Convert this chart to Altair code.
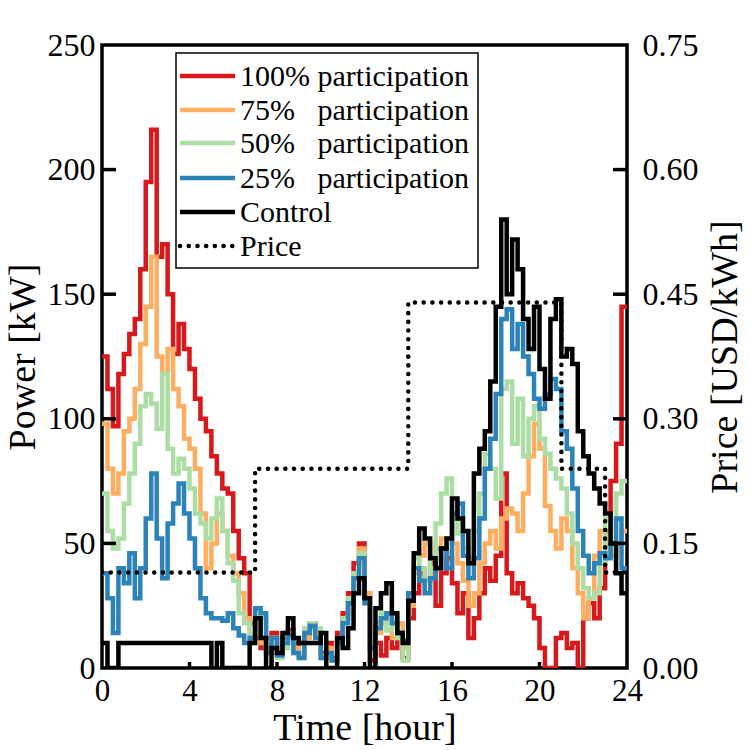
import altair as alt
import pandas as pd

# ---------------- data (15-min steps) ----------------
hours = [i * 0.25 for i in range(97)]

red = [125, 112, 97, 118, 126, 134, 140, 160, 195, 216, 165, 170, 150, 126, 138, 128,
       120, 108, 100, 95, 85, 78, 72, 70, 55, 44, 38, 18,
       12, 8, 12, 14, 6, 12, 15, 10, 5, 14, 18, 15, 6, 10, 4, 14, 22, 30, 42, 50,
       30, 3, 10, 5, 12, 8, 14, 4, 20, 30, 38, 35, 42, 25, 38, 44,
       34, 22, 30, 12, 20, 30, 40, 35, 45, 78, 38, 30, 34, 28, 25, 20,
       8, 0, 0, 12, 14, 8, 10, 0, 20, 26, 20, 32, 55, 75, 90, 145]

orange = [98, 80, 70, 78, 95, 100, 112, 130, 145, 165, 125, 118, 128, 112, 105, 92,
          88, 80, 62, 40, 50, 62, 55, 45, 38, 30, 20, 12,
          18, 10, 8, 12, 6, 10, 14, 8, 5, 12, 16, 14, 5, 8, 3, 12, 20, 26, 38, 48,
          30, 10, 14, 18, 22, 12, 18, 8, 25, 38, 45, 50, 44, 48, 52, 46,
          50, 42, 35, 25, 30, 42, 50, 55, 48, 60, 64, 62, 55, 70, 85, 98,
          88, 65, 55, 48, 60, 55, 40, 30, 20, 28, 45, 55, 52, 45, 50, 55]

green = [70, 55, 48, 52, 66, 78, 90, 105, 110, 106, 96, 118, 88, 78, 84, 80,
         72, 62, 58, 52, 60, 68, 55, 42, 35, 22, 18, 14,
         24, 20, 6, 12, 4, 8, 12, 6, 4, 16, 18, 16, 4, 6, 3, 10, 20, 28, 38, 46,
         28, 8, 18, 22, 15, 20, 12, 3, 30, 44, 40, 35, 45, 58, 70, 76,
         60, 54, 48, 42, 55, 70, 86, 80, 68, 112, 115, 90, 108, 85, 100, 105,
         92, 86, 80, 76, 72, 62, 50, 40, 32, 28, 30, 42, 60, 45, 70, 75]

blue = [38, 28, 14, 40, 34, 46, 28, 40, 60, 78, 52, 36, 58, 66, 74, 62,
        52, 40, 28, 22, 20, 20, 19, 22, 16, 13, 10, 12,
        24, 22, 6, 12, 5, 10, 13, 6, 4, 14, 17, 12, 4, 6, 3, 10, 18, 26, 36, 44,
        26, 8, 16, 20, 22, 18, 14, 11, 30, 40, 35, 30, 36, 40, 48, 40,
        62, 66, 45, 36, 44, 60, 80, 92, 110, 140, 144, 128, 138, 125, 118, 108,
        104, 110, 116, 112, 95, 88, 72, 55, 45, 38, 42, 46, 44, 50, 60, 40]

control = [10, 0, 0, 10, 10, 10, 10, 10, 10, 10, 10, 10, 10, 10, 10, 10,
           10, 10, 10, 10, 0, 10, 0, 0, 0, 0, 0, 10,
           20, 12, 0, 8, 6, 14, 20, 12, 10, 10, 10, 10, 14, 0, 0, 12, 8, 16, 30, 36,
           28, 0, 24, 30, 34, 22, 14, 10, 27, 46, 56, 52, 44, 40, 48, 52,
           68, 60, 55, 42, 78, 88, 95, 115, 145, 180, 150, 172, 160, 140, 128, 145,
           120, 108, 140, 148, 125, 128, 122, 95, 85, 78, 72, 66, 62, 50, 38, 30]

price_times = [0, 7, 14, 21, 23, 24]
price_vals = [0.115, 0.24, 0.44, 0.24, 0.115, 0.115]

x_tick_vals = [0, 4, 8, 12, 16, 20, 24]
inner_x_ticks = [4, 8, 12, 16, 20]
power_tick_vals = [0, 50, 100, 150, 200, 250]
inner_power_ticks = [50, 100, 150, 200]
price_tick_vals = [0, 0.15, 0.30, 0.45, 0.60, 0.75]
inner_price_ticks = [0.15, 0.30, 0.45, 0.60]

series_names = ["100% participation", "75%\u00a0\u00a0\u00a0participation",
                "50%\u00a0\u00a0\u00a0participation", "25%\u00a0\u00a0\u00a0participation",
                "Control"]
series_values = [red, orange, green, blue, control]
series_colors = ["#d7191c", "#fdae61", "#abdda4", "#2b83ba", "#000000"]

# ---------------- layout ----------------
FONT = "Liberation Serif"
W, H = 525, 623

xscale = alt.Scale(domain=[0, 24], nice=False, zero=False)
pscale = alt.Scale(domain=[0, 250], nice=False)
prscale = alt.Scale(domain=[0, 0.75], nice=False)

common = dict(grid=False, domain=False, ticks=False, labelFont=FONT, titleFont=FONT,
              labelColor="black", titleColor="black", titleFontWeight="normal",
              labelFlush=False, labelOverlap=False)

xaxis = alt.Axis(values=x_tick_vals, title="Time [hour]", labelFontSize=31,
                 labelPadding=8, titleFontSize=38, titlePadding=3, **common)
yaxis = alt.Axis(values=power_tick_vals, title="Power [kW]", labelFontSize=32,
                 labelPadding=7, titleFontSize=38, titlePadding=5, **common)
raxis = alt.Axis(values=price_tick_vals, format=".2f", orient="right",
                 title="Price [USD/kWh]", labelFontSize=32, labelPadding=15,
                 titleFontSize=38, titlePadding=8, titleAngle=270,
                 titleBaseline="top", **common)


def sdf(vals):
    return pd.DataFrame({"t": hours, "v": list(vals) + [vals[-1]]})


power_layers = []
for vals, col in zip(series_values, series_colors):
    power_layers.append(
        alt.Chart(sdf(vals)).mark_line(interpolate="step-after", strokeWidth=4.5,
                                       color=col, clip=True).encode(
            x=alt.X("t:Q", scale=xscale, axis=xaxis),
            y=alt.Y("v:Q", scale=pscale, axis=yaxis))
    )

left_ticks = alt.Chart(pd.DataFrame({"v": inner_power_ticks})).mark_rule(
    color="black", strokeWidth=3.5).encode(
    y=alt.Y("v:Q", scale=pscale, axis=yaxis), x=alt.value(0), x2=alt.value(14))

bottom_ticks = alt.Chart(pd.DataFrame({"t": inner_x_ticks})).mark_rule(
    color="black", strokeWidth=3.5).encode(
    x=alt.X("t:Q", scale=xscale, axis=xaxis), y=alt.value(H), y2=alt.value(H - 6))

power = alt.layer(*power_layers, left_ticks, bottom_ticks)

price_line = alt.Chart(pd.DataFrame({"t": price_times, "p": price_vals})).mark_line(
    interpolate="step-after", color="black", strokeWidth=4.5, strokeDash=[0.1, 8.6],
    strokeCap="round", clip=True).encode(
    x=alt.X("t:Q", scale=xscale, axis=xaxis),
    y=alt.Y("p:Q", scale=prscale, axis=raxis))

right_ticks = alt.Chart(pd.DataFrame({"p": inner_price_ticks})).mark_rule(
    color="black", strokeWidth=3.5).encode(
    y=alt.Y("p:Q", scale=prscale, axis=raxis), x=alt.value(W - 14), x2=alt.value(W))

price = alt.layer(price_line, right_ticks)

# ---------------- legend (drawn by hand) ----------------
one = pd.DataFrame({"a": [0]})
legend_layers = [
    alt.Chart(one).mark_rect(fill="white", stroke="black", strokeWidth=1.5).encode(
        x=alt.value(74), x2=alt.value(376), y=alt.value(8), y2=alt.value(223))
]
row_y = [31, 65, 98, 133, 167, 201]
labels = series_names + ["Price"]
for i, lab in enumerate(labels):
    yy = row_y[i]
    if lab == "Price":
        rule = alt.Chart(one).mark_rule(color="black", strokeWidth=4.5,
                                        strokeDash=[0.1, 8.6], strokeCap="round")
    else:
        rule = alt.Chart(one).mark_rule(color=series_colors[i], strokeWidth=4.5)
    legend_layers.append(rule.encode(x=alt.value(78), x2=alt.value(133), y=alt.value(yy)))
    legend_layers.append(
        alt.Chart(one).mark_text(align="left", baseline="middle", font=FONT,
                                 fontSize=30, color="black").encode(
            x=alt.value(138), y=alt.value(yy + 1), text=alt.value(lab)))

chart = alt.layer(power, price, *legend_layers).resolve_scale(
    y="independent"
).properties(
    width=W, height=H,
    autosize=alt.AutoSizeParams(type="none"),
    padding={"left": 102, "top": 45, "right": 123, "bottom": 82},
    background="white",
).configure_view(stroke="black", strokeWidth=3.5)

chart.save("out.html", embed_options={"renderer": "svg", "actions": False})
